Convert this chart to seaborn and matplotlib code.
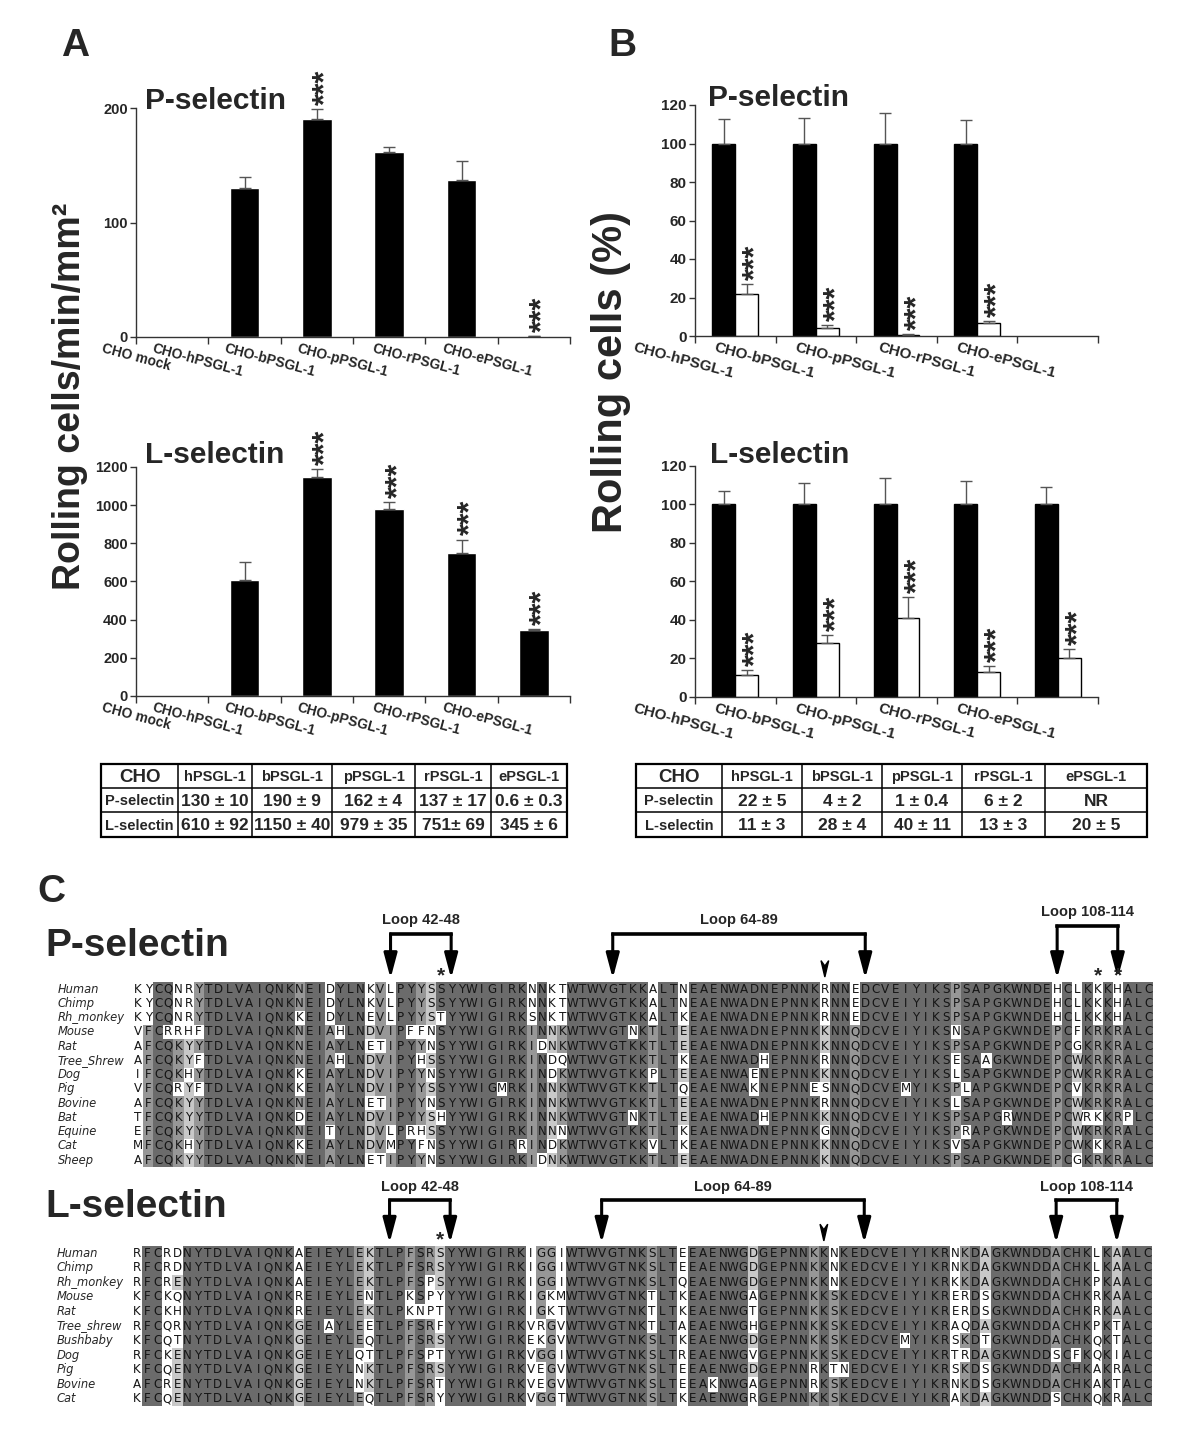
import numpy as np
import pandas as pd
import seaborn as sns
import matplotlib
matplotlib.use("Agg")
import matplotlib.pyplot as plt
import matplotlib.transforms as mtransforms
from matplotlib.colors import ListedColormap
from matplotlib.patches import Polygon, Rectangle
from collections import Counter

sns.set_theme(style="ticks")
plt.rcParams["font.family"] = ["Liberation Sans", "DejaVu Sans"]

# ---------------- data: panel A (rolling cells/min/mm2) ----------------
cats_a = ["CHO mock", "CHO-hPSGL-1", "CHO-bPSGL-1", "CHO-pPSGL-1", "CHO-rPSGL-1", "CHO-ePSGL-1"]
a_psel = [1, 130, 190, 162, 137, 0.6]
a_psel_err = [0, 10, 9, 4, 17, 0.3]
a_psel_stars = ["", "", "***", "", "", "***"]
a_lsel = [0, 610, 1150, 979, 751, 345]
a_lsel_err = [0, 92, 40, 35, 69, 6]
a_lsel_stars = ["", "", "***", "***", "***", "***"]

# ---------------- data: panel B (rolling cells %) ----------------
cats_b = ["CHO-hPSGL-1", "CHO-bPSGL-1", "CHO-pPSGL-1", "CHO-rPSGL-1", "CHO-ePSGL-1"]
b_psel_ctrl = [100, 100, 100, 100, np.nan]
b_psel_ctrl_err = [12.5, 13.5, 16, 12, np.nan]
b_psel_treat = [22, 4, 0.5, 6.5, np.nan]
b_psel_treat_err = [5, 1.5, 0.4, 1.2, np.nan]
b_lsel_ctrl = [100, 100, 100, 100, 100]
b_lsel_ctrl_err = [7, 11, 14, 12, 9]
b_lsel_treat = [11.5, 28, 41, 13, 20]
b_lsel_treat_err = [2.5, 4, 11, 3, 5]

# ---------------- tables ----------------
table_cols = ["CHO", "hPSGL-1", "bPSGL-1", "pPSGL-1", "rPSGL-1", "ePSGL-1"]
table_rows = ["P-selectin", "L-selectin"]
table_a_p = ["130 ± 10", "190 ± 9", "162 ± 4", "137 ± 17", "0.6 ± 0.3"]
table_a_l = ["610 ± 92", "1150 ± 40", "979 ± 35", "751± 69", "345 ± 6"]
table_b_p = ["22 ± 5", "4 ± 2", "1 ± 0.4", "6 ± 2", "NR"]
table_b_l = ["11 ± 3", "28 ± 4", "40 ± 11", "13 ± 3", "20 ± 5"]

# ---------------- panel C alignments ----------------
p_species = ["Human", "Chimp", "Rh_monkey", "Mouse", "Rat", "Tree_Shrew", "Dog", "Pig",
             "Bovine", "Bat", "Equine", "Cat", "Sheep"]
p_seqs = [
    "KYCQNRYTDLVAIQNKNEIDYLNKVLPYYSS" + "YYWIGIRKNNKTWTWVGTKKALTNEAENWADNEPNNK" + "RNNEDCVEIYIKSPSAPGKWNDEHCLKKKHALC",
    "KYCQNRYTDLVAIQNKNEIDYLNKVLPYYSS" + "YYWIGIRKNNKTWTWVGTKKALTNEAENWADNEPNNK" + "RNNEDCVEIYIKSPSAPGKWNDEHCLKKKHALC",
    "KYCQNRYTDLVAIQNKKEIDYLNEVLPYYST" + "YYWIGIRKSNKTWTWVGTKKALTKEAENWADNEPNNK" + "RNNEDCVEIYIKSPSAPGKWNDEHCLKKKHALC",
    "VFCRRHFTDLVAIQNKNEIAHLNDVIPFFNS" + "YYWIGIRKINNKWTWVGTNKTLTEEAENWADNEPNNK" + "KNNQDCVEIYIKSNSAPGKWNDEPCFKRKRALC",
    "AFCQKYYTDLVAIQNKNEIAYLNETIPYYNS" + "YYWIGIRKIDNKWTWVGTKKTLTEEAENWADNEPNNK" + "KNNQDCVEIYIKSPSAPGKWNDEPCGKRKRALC",
    "AFCQKYFTDLVAIQNKNEIAHLNDVIPYHSS" + "YYWIGIRKINDQWTWVGTKKTLTKEAENWADHEPNNK" + "RNNQDCVEIYIKSESAAGKWNDEPCWKRKRALC",
    "IFCQKHYTDLVAIQNKKEIAYLNDVIPYYNS" + "YYWIGIRKINDKWTWVGTKKPLTEEAENWAENEPNNK" + "KNNQDCVEIYIKSLSAPGKWNDEPCWKRKRALC",
    "VFCQRYFTDLVAIQNKKEIAYLNDVIPYYSS" + "YYWIGMRKINNKWTWVGTKKTLTQEAENWAKNEPNNE" + "SNNQDCVEMYIKSPLAPGKWNDEPCVKRKRALC",
    "AFCQKYYTDLVAIQNKNEIAYLNETIPYYNS" + "YYWIGIRKINNKWTWVGTKKTLTEEAENWADNEPNNK" + "RNNQDCVEIYIKSLSAPGKWNDEPCWKRKRALC",
    "TFCQKYYTDLVAIQNKDEIAYLNDVIPYYSH" + "YYWIGIRKINNKWTWVGTNKTLTEEAENWADHEPNNK" + "KNNQDCVEIYIKSPSAPGRWNDEPCWRKKRPLC",
    "EFCQKYYTDLVAIQNKNEITYLNDVLPRHSS" + "YYWIGIRKINNNWTWVGTKKTLTKEAENWADNEPNNK" + "GNNQDCVEIYIKSPRAPGKWNDEPCWKRKRALC",
    "MFCQKHYTDLVAIQNKKEIAYLNDVMPYFNS" + "YYWIGIRRINDKWTWVGTKKVLTKEAENWADNEPNNK" + "KNNQDCVEIYIKSVSAPGKWNDEPCWKKKRALC",
    "AFCQKYYTDLVAIQNKNEIAYLNETIPYYNS" + "YYWIGIRKIDNKWTWVGTKKTLTEEAENWADNEPNNK" + "KNNQDCVEIYIKSPSAPGKWNDEPCGKRKRALC",
]
l_species = ["Human", "Chimp", "Rh_monkey", "Mouse", "Rat", "Tree_shrew", "Bushbaby", "Dog",
             "Pig", "Bovine", "Cat"]
l_seqs = [
    "RFCRDNYTDLVAIQNKAEIEYLEKTLPFSRS" + "YYWIGIRKIGGIWTWVGTNKSLTEEAENWGDGEPNNK" + "KNKEDCVEIYIKRNKDAGKWNDDACHKLKAALC",
    "RFCRDNYTDLVAIQNKAEIEYLEKTLPFSRS" + "YYWIGIRKIGGIWTWVGTNKSLTEEAENWGDGEPNNK" + "KNKEDCVEIYIKRNKDAGKWNDDACHKLKAALC",
    "RFCRENYTDLVAIQNKAEIEYLEKTLPFSPS" + "YYWIGIRKIGGIWTWVGTNKSLTQEAENWGDGEPNNK" + "KNKEDCVEIYIKRKKDAGKWNDDACHKPKAALC",
    "KFCKQNYTDLVAIQNKREIEYLENTLPKSPY" + "YYWIGIRKIGKMWTWVGTNKTLTKEAENWGAGEPNNK" + "KSKEDCVEIYIKRERDSGKWNDDACHKRKAALC",
    "KFCKHNYTDLVAIQNKREIEYLEKTLPKNPT" + "YYWIGIRKIGKTWTWVGTNKTLTKEAENWGTGEPNNK" + "KSKEDCVEIYIKRERDSGKWNDDACHKRKAALC",
    "RFCQRNYTDLVAIQNKGEIAYLEETLPFSRF" + "YYWIGIRKVRGVWTWVGTNKTLTAEAENWGHGEPNNK" + "KSKEDCVEIYIKRAQDAGKWNDDACHKPKTALC",
    "KFCQTNYTDLVAIQNKGEIEYLEQTLPFSRS" + "YYWIGIRKEKGVWTWVGTNKSLTKEAENWGDGEPNNK" + "KSKEDCVEMYIKRSKDTGKWNDDACHKQKTALC",
    "RFCKENYTDLVAIQNKGEIEYLQTTLPFSPT" + "YYWIGIRKVGGIWTWVGTNKSLTREAENWGVGEPNNK" + "KSKEDCVEIYIKRTRDAGKWNDDSCFKQKIALC",
    "KFCQENYTDLVAIQNKGEIEYLNKTLPFSRS" + "YYWIGIRKVEGVWTWVGTNKSLTEEAENWGDGEPNNR" + "KTNEDCVEIYIKRSKDSGKWNDDACHKAKRALC",
    "AFCRENYTDLVAIQNKGEIEYLNKTLPFSRT" + "YYWIGIRKVEGVWTWVGTNKSLTEEAKNWGAGEPNNR" + "KSKEDCVEIYIKRNKDSGKWNDDACHKAKTALC",
    "KFCQENYTDLVAIQNKGEIEYLEQTLPFSRY" + "YYWIGIRKVGGTWTWVGTNKSLTKEAENWGRGEPNNK" + "KSKEDCVEIYIKRAKDAGKWNDDSCHKQKRALC",
]
# loops: (first column, last column, label)
p_loops = [(25, 31, "Loop 42-48"), (47, 72, "Loop 64-89"), (91, 97, "Loop 108-114")]
l_loops = [(25, 31, "Loop 42-48"), (46, 72, "Loop 64-89"), (91, 97, "Loop 108-114")]
p_star_cols = [30, 95, 97]
l_star_cols = [30]
site_col = 68

W, H = 1200, 1454
fig = plt.figure(figsize=(W / 100, H / 100), dpi=100)
fig.patch.set_facecolor("white")


def rect(x0, y0, x1, y1):
    return [x0 / W, 1 - y1 / H, (x1 - x0) / W, (y1 - y0) / H]


def style_axes(ax, n, ymax, step, fs):
    ax.set_xlim(-0.5, n - 0.5)
    ax.set_ylim(0, ymax)
    ax.set_yticks(np.arange(0, ymax + 1, step))
    ax.set_xlabel("")
    ax.set_ylabel("")
    ax.patch.set_alpha(0)
    sns.despine(ax=ax)
    for sp in ("left", "bottom"):
        ax.spines[sp].set_color("#333333")
        ax.spines[sp].set_linewidth(1)
    ax.tick_params(axis="y", length=4, width=1, color="#333333", labelsize=fs, pad=2)
    plt.setp(ax.get_yticklabels(), fontweight="bold")
    ax.set_xticks(np.arange(-0.5, n), minor=True)
    ax.tick_params(axis="x", which="major", length=0, pad=3)
    ax.tick_params(axis="x", which="minor", length=5, width=1, color="#333333", direction="out")


def set_cat_labels(ax, cats, fs):
    ax.set_xticks(range(len(cats)))
    ax.set_xticklabels(cats, rotation=-15, ha="right", va="top", fontsize=fs, fontweight="bold")


STAR_FS = 22


def stars_text(ax, x, y, s):
    # baseline shifted right so the rotated asterisks sit centred on the bar
    trans = mtransforms.offset_copy(ax.transData, fig=fig, x=0.58 * STAR_FS, y=3, units="points")
    ax.text(x, y, s, rotation=90, rotation_mode="anchor", ha="left", va="baseline",
            fontsize=STAR_FS, fontweight="bold", transform=trans, clip_on=False)


def err_up(ax, x, h, e):
    ax.errorbar(x, h, yerr=[[0], [e]], fmt="none", ecolor="#555555", elinewidth=1,
                capsize=4, capthick=1, clip_on=False)


def single_bars(ax, cats, vals, errs, stars, ymax, step):
    df = pd.DataFrame({"cat": cats, "value": vals})
    sns.barplot(data=df, x="cat", y="value", order=cats, color="black", saturation=1,
                width=0.41, errorbar=None, ax=ax)
    style_axes(ax, len(cats), ymax, step, 10.5)
    set_cat_labels(ax, cats, 10)
    for bar, e, s in zip(ax.containers[0], errs, stars):
        x = bar.get_x() + bar.get_width() / 2
        h = bar.get_height()
        if e > 0:
            err_up(ax, x, h, e)
        if s:
            stars_text(ax, x, h + e, s)


def paired_bars(ax, cats, ctrl, ctrl_err, treat, treat_err):
    n = len(cats)
    df = pd.DataFrame({"cat": cats * 2, "group": ["ctrl"] * n + ["treat"] * n,
                       "value": list(ctrl) + list(treat),
                       "err": list(ctrl_err) + list(treat_err)}).dropna()
    sns.barplot(data=df, x="cat", y="value", hue="group", order=cats,
                hue_order=["ctrl", "treat"], palette={"ctrl": "black", "treat": "white"},
                edgecolor="black", linewidth=1, saturation=1, width=0.57,
                errorbar=None, legend=False, ax=ax)
    style_axes(ax, n, 120, 20, 11)
    set_cat_labels(ax, cats, 11)
    for cont, grp in zip(ax.containers, ["ctrl", "treat"]):
        sub = df[df["group"] == grp]
        for bar, e in zip(cont, sub["err"]):
            x = bar.get_x() + bar.get_width() / 2
            h = bar.get_height()
            err_up(ax, x, h, e)
            if grp == "treat":
                stars_text(ax, x, h + e, "***")


ax_a1 = fig.add_axes(rect(136, 108, 570, 337))
single_bars(ax_a1, cats_a, a_psel, a_psel_err, a_psel_stars, 200, 100)
ax_a2 = fig.add_axes(rect(136, 467, 570, 696))
single_bars(ax_a2, cats_a, a_lsel, a_lsel_err, a_lsel_stars, 1200, 200)
ax_b1 = fig.add_axes(rect(695, 105, 1098, 336))
paired_bars(ax_b1, cats_b, b_psel_ctrl, b_psel_ctrl_err, b_psel_treat, b_psel_treat_err)
ax_b2 = fig.add_axes(rect(695, 466, 1098, 697))
paired_bars(ax_b2, cats_b, b_lsel_ctrl, b_lsel_ctrl_err, b_lsel_treat, b_lsel_treat_err)

# overlay in pixel coordinates, drawn on top of the plot axes
overlay = fig.add_axes([0, 0, 1, 1])
overlay.set_xlim(0, W)
overlay.set_ylim(H, 0)
overlay.axis("off")
overlay.set_zorder(10)

for s, x, y in (("A", 75, 46), ("B", 622, 46), ("C", 51, 892)):
    overlay.text(x, y, s, ha="center", va="center", fontsize=28, fontweight="bold")
for s, x, y in (("P-selectin", 145, 101), ("L-selectin", 145, 455),
                ("P-selectin", 708, 98), ("L-selectin", 710, 455)):
    overlay.text(x, y, s, ha="left", va="center", fontsize=21.5, fontweight="bold")
overlay.text(70, 396, "Rolling cells/min/mm²", rotation=90, ha="center", va="center",
             fontsize=27, fontweight="bold")
overlay.text(611, 372, "Rolling cells (%)", rotation=90, ha="center", va="center",
             fontsize=30, fontweight="bold")


def draw_table(xs, ys, p_vals, l_vals):
    overlay.add_patch(Rectangle((xs[0], ys[0]), xs[-1] - xs[0], ys[-1] - ys[0], fill=False,
                                lw=1.6, ec="black"))
    for x in xs[1:-1]:
        overlay.plot([x, x], [ys[0], ys[-1]], color="black", lw=1.1)
    for y in ys[1:-1]:
        overlay.plot([xs[0], xs[-1]], [y, y], color="black", lw=1.1)
    cx = [(xs[i] + xs[i + 1]) / 2 for i in range(len(xs) - 1)]
    cy = [(ys[i] + ys[i + 1]) / 2 for i in range(len(ys) - 1)]
    for j, lab in enumerate(table_cols):
        fs = 13.5 if j == 0 else 10.5
        overlay.text(cx[j], cy[0] + 1, lab, ha="center", va="center", fontsize=fs,
                     fontweight="bold")
    for i, (lab, vals) in enumerate(zip(table_rows, (p_vals, l_vals))):
        overlay.text(cx[0], cy[i + 1] + 1, lab, ha="center", va="center", fontsize=10.5,
                     fontweight="bold")
        for j, v in enumerate(vals):
            overlay.text(cx[j + 1], cy[i + 1] + 1, v, ha="center", va="center",
                         fontsize=12.5, fontweight="bold")


draw_table([101, 178, 252, 332, 415, 491, 567], [764, 788, 812, 837], table_a_p, table_a_l)
draw_table([636, 722, 802, 882, 962, 1045, 1147], [764, 788, 812, 837], table_b_p, table_b_l)

# ---------------- alignments ----------------
shade_cmap = ListedColormap(["white", "#c8c8c8", "#979797", "#6b6b6b"])


def conservation(seqs):
    n, L = len(seqs), len(seqs[0])
    lev = np.zeros((n, L))
    for j in range(L):
        col = [s[j] for s in seqs]
        counts = Counter(col).most_common()
        top, c = counts[0]
        if len(counts) > 1 and counts[1][1] == c:
            continue
        f = c / n
        level = 3 if f >= 0.84 else 2 if f >= 0.6 else 1 if f >= 0.4 else 0
        for i in range(n):
            if col[i] == top:
                lev[i, j] = level
    return lev


def alignment(ax, names, seqs, loops, star_cols, geo):
    label_y, top, tip, star_y, top3, label3 = geo
    letters = np.array([list(s) for s in seqs])
    sns.heatmap(conservation(seqs), ax=ax, cmap=shade_cmap, vmin=-0.5, vmax=3.5, cbar=False,
                annot=letters, fmt="", xticklabels=False, yticklabels=False,
                annot_kws={"fontsize": 8.6, "color": "#151515", "family": "DejaVu Sans"})
    for i, name in enumerate(names):
        ax.text(-7.45, i + 0.5, name, ha="left", va="center", fontsize=8.3, style="italic",
                family="DejaVu Sans")
    for k, (a, b, lab) in enumerate(loops):
        t, ly = (top3, label3) if k == 2 else (top, label_y)
        xa, xb = a + 0.5, b + 0.5
        ax.plot([xa, xb], [t, t], color="black", lw=2.6, solid_capstyle="projecting",
                clip_on=False)
        for x in (xa, xb):
            ann = ax.annotate("", xy=(x, tip), xytext=(x, t), annotation_clip=False,
                              arrowprops=dict(arrowstyle="-|>,head_length=0.75,head_width=0.2",
                                              color="black", lw=2.2, shrinkA=0, shrinkB=0,
                                              mutation_scale=20))
            ann.arrow_patch.set_clip_on(False)
        ax.text((xa + xb) / 2, ly, lab, ha="center", va="center", fontsize=10.5,
                fontweight="bold")
    for c in star_cols:
        ax.text(c + 0.5, star_y, "*", ha="center", va="center", fontsize=15, fontweight="bold")
    x = site_col + 0.5
    ax.add_patch(Polygon([(x - 0.38, -1.5), (x, -1.12), (x + 0.38, -1.5), (x, -0.35)],
                         closed=True, color="black", clip_on=False))


ax_c1 = fig.add_axes(rect(133, 982, 133 + 101 * 10.1, 982 + 13 * 14.25))
alignment(ax_c1, p_species, p_seqs, p_loops, p_star_cols, (-4.35, -3.37, -0.25, -0.45, -3.93, -4.9))
ax_c2 = fig.add_axes(rect(132, 1246, 132 + 101 * 10.1, 1246 + 11 * 14.55))
alignment(ax_c2, l_species, l_seqs, l_loops, l_star_cols, (-4.05, -3.16, -0.2, -0.4, -3.16, -4.05))

overlay.text(45, 946, "P-selectin", ha="left", va="center", fontsize=28, fontweight="bold")
overlay.text(45, 1207, "L-selectin", ha="left", va="center", fontsize=28, fontweight="bold")

fig.savefig("out.png", dpi=100, facecolor="white")
